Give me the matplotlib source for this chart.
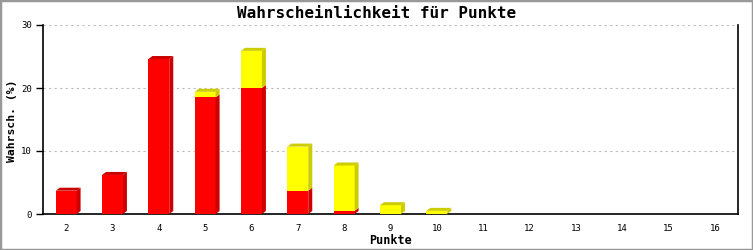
import matplotlib
matplotlib.use("Agg")
import matplotlib.pyplot as plt
from matplotlib.patches import Polygon, Rectangle

# data
punkte = [2, 3, 4, 5, 6, 7, 8, 9, 10, 11, 12, 13, 14, 15, 16]
rot = [3.7, 6.2, 24.6, 18.5, 20.0, 3.7, 0.5, 0, 0, 0, 0, 0, 0, 0, 0]
gelb = [0, 0, 0, 0.9, 5.9, 7.0, 7.2, 1.4, 0.5, 0, 0, 0, 0, 0, 0]

W, H = 753, 250
fig = plt.figure(figsize=(W / 100, H / 100), dpi=100)
fig.patches.append(Rectangle((0, 0), 1, 1, transform=fig.transFigure,
                             fill=False, edgecolor="#999999", linewidth=2.5))

left, right, bottom, top = 43, 738, 214, 25
ax = fig.add_axes([left / W, 1 - bottom / H, (right - left) / W, (bottom - top) / H])
xmin, xmax, ymin, ymax = 1.5, 16.5, 0, 30
ax.set_xlim(xmin, xmax)
ax.set_ylim(ymin, ymax)

# 3d depth in pixels -> data units
dx = 4 * (xmax - xmin) / (right - left)
dy = 3 * (ymax - ymin) / (bottom - top)
bw = 0.45

def bar3d(x, b, t, face, shade, draw_top):
    if t <= b:
        return
    ax.add_patch(Rectangle((x - bw / 2, b), bw, t - b, facecolor=face,
                           edgecolor="none", zorder=3))
    ax.add_patch(Polygon([(x + bw / 2, b), (x + bw / 2 + dx, b + dy),
                          (x + bw / 2 + dx, t + dy), (x + bw / 2, t)],
                         closed=True, facecolor=shade, edgecolor="none", zorder=3))
    if draw_top:
        ax.add_patch(Polygon([(x - bw / 2, t), (x - bw / 2 + dx, t + dy),
                              (x + bw / 2 + dx, t + dy), (x + bw / 2, t)],
                             closed=True, facecolor=shade, edgecolor="none", zorder=3))

for p, r, g in zip(punkte, rot, gelb):
    bar3d(p, 0, r, "#ff0000", "#cc0000", g == 0)
    bar3d(p, r, r + g, "#ffff00", "#cccc00", True)

mono = "DejaVu Sans Mono"
ax.set_xticks(punkte)
ax.set_xticklabels([str(p) for p in punkte], fontsize=6.5, family=mono)
ax.set_yticks([0, 10, 20, 30])
ax.set_yticklabels(["0", "10", "20", "30"], fontsize=6.5, family=mono)
ax.tick_params(axis="x", length=0, pad=7)
ax.tick_params(axis="y", length=5, width=1, pad=3)
ax.grid(axis="y", color="#bbbbbb", linestyle=(0, (2, 3)), linewidth=0.8)
ax.set_axisbelow(True)

ax.spines["top"].set_visible(False)
for s in ("left", "right", "bottom"):
    ax.spines[s].set_linewidth(1.2)
    ax.spines[s].set_color("black")

fig.text(390 / W, 1 - 240 / H, "Punkte", ha="center", va="center",
         fontsize=8.5, family=mono, fontweight="bold")
fig.text(12 / W, 1 - 121 / H, "Wahrsch. (%)", ha="center", va="center", rotation=90,
         fontsize=8.2, family=mono, fontweight="bold")
fig.text(0.5, 1 - 13 / H, "Wahrscheinlichkeit für Punkte", ha="center", va="center",
         fontsize=11.5, family=mono, fontweight="bold")

fig.savefig("out.png", dpi=100)
